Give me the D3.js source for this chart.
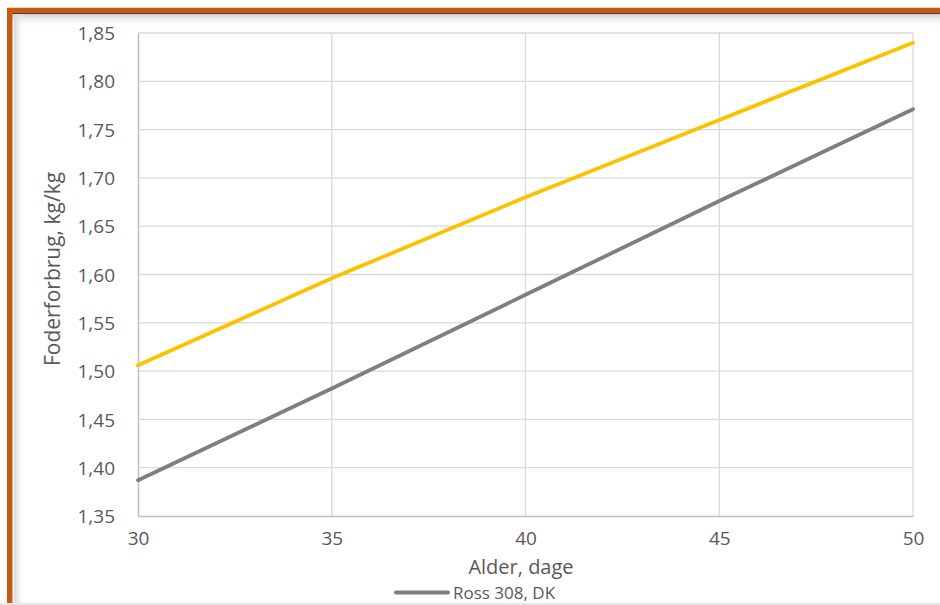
<!DOCTYPE html>
<html>
<head>
<meta charset="utf-8">
<script src="https://cdn.jsdelivr.net/npm/d3@7"></script>
<style>
  html, body { margin: 0; padding: 0; background: #fff; }
  svg { display: block; }
  text { font-family: "Open Sans", "Liberation Sans", sans-serif; }
</style>
</head>
<body>
<svg id="chart" width="940" height="605"></svg>
<script>
// ---- data ----
const ages = [30, 35, 40, 45, 50];
const seriesYellow = [1.506, 1.596, 1.680, 1.760, 1.840];
const seriesRossDK = [1.387, 1.482, 1.579, 1.676, 1.771];
const xTicks = [30, 35, 40, 45, 50];
const yTicks = [1.35, 1.40, 1.45, 1.50, 1.55, 1.60, 1.65, 1.70, 1.75, 1.80, 1.85];
const xTitle = "Alder, dage";
const yTitle = "Foderforbrug, kg/kg";
const legendLabel = "Ross 308, DK";

// ---- layout ----
const svg = d3.select("#chart");
const W = 940, H = 605;
const plot = { left: 138, right: 913, top: 33, bottom: 516 };

const defs = svg.append("defs");
const gTop = defs.append("linearGradient").attr("id", "shTop").attr("x1", 0).attr("y1", 0).attr("x2", 0).attr("y2", 1);
gTop.append("stop").attr("offset", "0%").attr("stop-color", "#cfcfcf");
gTop.append("stop").attr("offset", "100%").attr("stop-color", "#ffffff").attr("stop-opacity", 0);
const gLeft = defs.append("linearGradient").attr("id", "shLeft").attr("x1", 0).attr("y1", 0).attr("x2", 1).attr("y2", 0);
gLeft.append("stop").attr("offset", "0%").attr("stop-color", "#d6d6d6");
gLeft.append("stop").attr("offset", "100%").attr("stop-color", "#ffffff").attr("stop-opacity", 0);

svg.append("rect").attr("width", W).attr("height", H).attr("fill", "#fff");

// inner shadows
svg.append("rect").attr("x", 12).attr("y", 14).attr("width", W - 12).attr("height", 13).attr("fill", "url(#shTop)");
svg.append("rect").attr("x", 14).attr("y", 14).attr("width", 12).attr("height", H - 14).attr("fill", "url(#shLeft)");

// frame (orange border left and top)
svg.append("rect").attr("x", 7).attr("y", 7).attr("width", W - 7).attr("height", 1).attr("fill", "#f3d3c0");
svg.append("rect").attr("x", 7).attr("y", 8).attr("width", W - 7).attr("height", 5.5).attr("fill", "#c55a11");
svg.append("rect").attr("x", 12).attr("y", 13).attr("width", W - 12).attr("height", 1).attr("fill", "#5a3a28");
svg.append("rect").attr("x", 7).attr("y", 8).attr("width", 5.5).attr("height", H - 8).attr("fill", "#c55a11");
svg.append("rect").attr("x", 0).attr("y", H - 2).attr("width", W).attr("height", 2).attr("fill", "#e6e6e6");

// scales
const x = d3.scaleLinear().domain([30, 50]).range([plot.left, plot.right]);
const y = d3.scaleLinear().domain([1.35, 1.85]).range([plot.bottom, plot.top]);
const fmt = d => d.toFixed(2).replace(".", ",");

// gridlines
const grid = svg.append("g");
grid.selectAll(".hg").data(yTicks.filter(t => t > 1.35)).join("line")
  .attr("x1", plot.left).attr("x2", plot.right)
  .attr("y1", d => y(d)).attr("y2", d => y(d))
  .attr("stroke", "#d9d9d9").attr("stroke-width", 1.3);
grid.selectAll(".vg").data(xTicks.filter(t => t > 30)).join("line")
  .attr("x1", d => x(d)).attr("x2", d => x(d))
  .attr("y1", plot.top).attr("y2", plot.bottom)
  .attr("stroke", "#d9d9d9").attr("stroke-width", 1.3);

// axes
const yAxis = d3.axisLeft(y).tickValues(yTicks).tickFormat(fmt).tickSize(0).tickPadding(23);
const xAxis = d3.axisBottom(x).tickValues(xTicks).tickFormat(d3.format("d")).tickSize(0).tickPadding(16);
const gy = svg.append("g").attr("transform", `translate(${plot.left},0)`).call(yAxis);
const gx = svg.append("g").attr("transform", `translate(0,${plot.bottom})`).call(xAxis);
[gy, gx].forEach(g => {
  g.select(".domain").attr("stroke", "#bfbfbf").attr("stroke-width", 1.5);
  g.selectAll("text").attr("fill", "#595959").attr("font-size", 19)
    .style("font-family", "'Open Sans', sans-serif");
});
gy.selectAll("text").attr("dy", "0.35em");
gx.selectAll("text").attr("dy", "0.71em");

// lines
const line = d3.line().x((d, i) => x(ages[i])).y(d => y(d));
svg.append("path").datum(seriesRossDK).attr("d", line)
  .attr("fill", "none").attr("stroke", "#7f7f7f").attr("stroke-width", 3.8).attr("stroke-linecap", "round");
svg.append("path").datum(seriesYellow).attr("d", line)
  .attr("fill", "none").attr("stroke", "#ffc000").attr("stroke-width", 3.8).attr("stroke-linecap", "round");

// titles
svg.append("text").attr("x", 521).attr("y", 574).attr("text-anchor", "middle")
  .attr("font-size", 20).attr("fill", "#595959").text(xTitle);
svg.append("text").attr("transform", "translate(60,269) rotate(-90)").attr("text-anchor", "middle")
  .attr("font-size", 21).attr("fill", "#595959").text(yTitle);

// legend
svg.append("line").attr("x1", 396).attr("x2", 448).attr("y1", 592.5).attr("y2", 592.5)
  .attr("stroke", "#7f7f7f").attr("stroke-width", 4).attr("stroke-linecap", "round");
svg.append("text").attr("x", 453).attr("y", 599).attr("font-size", 17).attr("fill", "#595959").text(legendLabel);
</script>
</body>
</html>
